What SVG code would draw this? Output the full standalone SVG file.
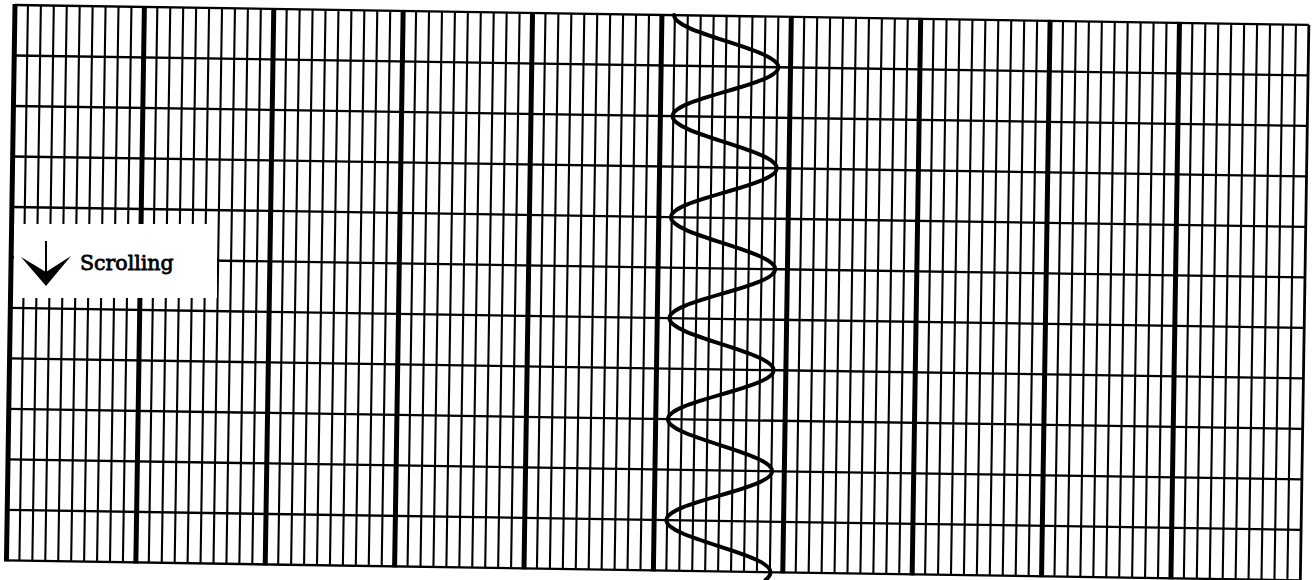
<svg xmlns="http://www.w3.org/2000/svg" width="1312" height="580" viewBox="0 0 1312 580">
<style>
.thin{stroke:#000;stroke-width:2.1;fill:none}
.major{stroke:#000;stroke-width:5;fill:none}
.hor{stroke:#000;stroke-width:2.3;fill:none}
.wave{stroke:#000;stroke-width:4;fill:none;stroke-linecap:round;stroke-linejoin:round}
.label{font-family:"DejaVu Serif","Liberation Serif",serif;font-size:20.5px;fill:#000;stroke:#000;stroke-width:0.8}
</style>
<rect width="1312" height="580" fill="#fff"/>
<g id="chart-paper" transform="translate(15,5) rotate(0.88)">
<path id="thin-verticals" class="thin" d="M12.94 0V555.5M25.88 0V555.5M38.82 0V555.5M51.76 0V555.5M64.7 0V555.5M77.64 0V555.5M90.58 0V555.5M103.52 0V555.5M116.46 0V555.5
M142.34 0V555.5M155.28 0V555.5M168.22 0V555.5M181.16 0V555.5M194.1 0V555.5M207.04 0V555.5M219.98 0V555.5M232.92 0V555.5M245.86 0V555.5
M271.74 0V555.5M284.68 0V555.5M297.62 0V555.5M310.56 0V555.5M323.5 0V555.5M336.44 0V555.5M349.38 0V555.5M362.32 0V555.5M375.26 0V555.5
M401.14 0V555.5M414.08 0V555.5M427.02 0V555.5M439.96 0V555.5M452.9 0V555.5M465.84 0V555.5M478.78 0V555.5M491.72 0V555.5M504.66 0V555.5
M530.54 0V555.5M543.48 0V555.5M556.42 0V555.5M569.36 0V555.5M582.3 0V555.5M595.24 0V555.5M608.18 0V555.5M621.12 0V555.5M634.06 0V555.5
M659.94 0V555.5M672.88 0V555.5M685.82 0V555.5M698.76 0V555.5M711.7 0V555.5M724.64 0V555.5M737.58 0V555.5M750.52 0V555.5M763.46 0V555.5
M789.34 0V555.5M802.28 0V555.5M815.22 0V555.5M828.16 0V555.5M841.1 0V555.5M854.04 0V555.5M866.98 0V555.5M879.92 0V555.5M892.86 0V555.5
M918.74 0V555.5M931.68 0V555.5M944.62 0V555.5M957.56 0V555.5M970.5 0V555.5M983.44 0V555.5M996.38 0V555.5M1009.32 0V555.5M1022.26 0V555.5
M1048.14 0V555.5M1061.08 0V555.5M1074.02 0V555.5M1086.96 0V555.5M1099.9 0V555.5M1112.84 0V555.5M1125.78 0V555.5M1138.72 0V555.5M1151.66 0V555.5
M1177.54 0V555.5M1190.48 0V555.5M1203.42 0V555.5M1216.36 0V555.5M1229.3 0V555.5M1242.24 0V555.5M1255.18 0V555.5M1268.12 0V555.5M1281.06 0V555.5"/>
<path id="horizontals" class="hor" d="M0 0H1294M0 50.5H1294M0 101H1294M0 151.5H1294M0 202H1294M0 252.5H1294M0 303H1294M0 353.5H1294M0 404H1294M0 454.5H1294M0 505H1294M0 555.5H1294"/>
<path id="major-verticals" class="major" d="M0 -1V556.5M129.4 -1V556.5M258.8 -1V556.5M388.2 -1V556.5M517.6 -1V556.5M647 -1V556.5M776.4 -1V556.5M905.8 -1V556.5M1035.2 -1V556.5M1164.6 -1V556.5"/>
<path id="right-edge" class="thin" style="stroke-width:2.8" d="M1294 0V555.5"/>
<path id="trace" class="wave" d="M659.2 0
c0,9.14 25.6,17.02 52.5,25.25 c26.9,8.24 52.5,16.11 52.5,25.25 c0,9.14 -25.6,17.02 -52.5,25.25 c-26.9,8.24 -52.5,16.11 -52.5,25.25
c0,9.14 25.6,17.02 52.5,25.25 c26.9,8.24 52.5,16.11 52.5,25.25 c0,9.14 -25.6,17.02 -52.5,25.25 c-26.9,8.24 -52.5,16.11 -52.5,25.25
c0,9.14 25.6,17.02 52.5,25.25 c26.9,8.24 52.5,16.11 52.5,25.25 c0,9.14 -25.6,17.02 -52.5,25.25 c-26.9,8.24 -52.5,16.11 -52.5,25.25
c0,9.14 25.6,17.02 52.5,25.25 c26.9,8.24 52.5,16.11 52.5,25.25 c0,9.14 -25.6,17.02 -52.5,25.25 c-26.9,8.24 -52.5,16.11 -52.5,25.25
c0,9.14 25.6,17.02 52.5,25.25 c26.9,8.24 52.5,16.11 52.5,25.25 c0,9.14 -25.6,17.02 -52.5,25.25 c-26.9,8.24 -52.5,16.11 -52.5,25.25
c0,9.14 25.6,17.02 52.5,25.25 c26.9,8.24 52.5,16.11 52.5,25.25 c0,3 -2.2,5.5 -5,8"/>
</g>
<g id="scrolling-label">
<rect x="14" y="224" width="203" height="74" fill="#fff"/>
<line x1="46" y1="241" x2="46" y2="274" stroke="#000" stroke-width="2"/>
<polygon points="21,257 46,286 71,256 46,272" fill="#000"/>
<text class="label" x="80" y="270">Scrolling</text>
</g>
</svg>
